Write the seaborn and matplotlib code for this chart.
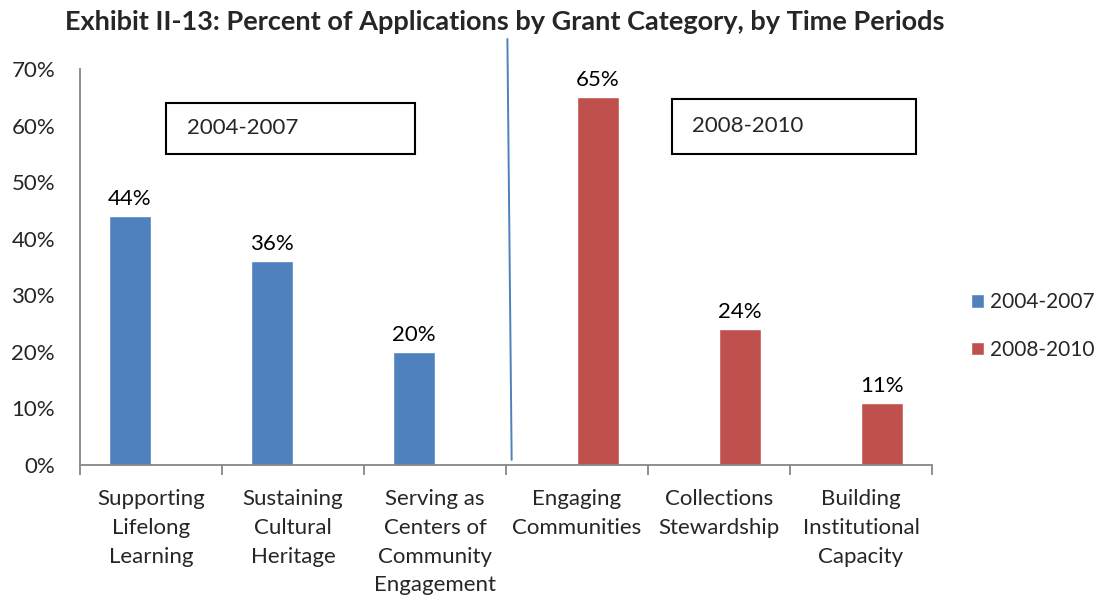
import matplotlib
matplotlib.use("Agg")
import matplotlib.pyplot as plt
from matplotlib.ticker import FuncFormatter, FixedLocator
from matplotlib.patches import Rectangle
from matplotlib.lines import Line2D
import seaborn as sns
import pandas as pd

# Grant categories and their share of applications in each period
categories = [
    "Supporting\nLifelong\nLearning",
    "Sustaining\nCultural\nHeritage",
    "Serving as\nCenters of\nCommunity\nEngagement",
    "Engaging\nCommunities",
    "Collections\nStewardship",
    "Building\nInstitutional\nCapacity",
]
periods = ["2004-2007", "2008-2010"]
values_2004_2007 = [44, 36, 20]
values_2008_2010 = [65, 24, 11]
colors = ["#4F81BD", "#C0504D"]

df = pd.DataFrame({
    "category": categories,
    "period": [periods[0]] * 3 + [periods[1]] * 3,
    "value": values_2004_2007 + values_2008_2010,
})

sns.set_theme(style="white")
plt.rcParams["font.family"] = ["Lato", "DejaVu Sans"]

fig = plt.figure(figsize=(11.05, 5.96), dpi=100)
ax = fig.add_axes([0.0724, 0.2198, 0.771, 0.6644])

sns.barplot(data=df, x="category", y="value", hue="period",
            order=categories, hue_order=periods, palette=colors,
            width=0.59, dodge=True, saturation=1, errorbar=None,
            legend=False, ax=ax)

fs = 16
for cont in ax.containers:
    ax.bar_label(cont, labels=[f"{b.get_height():.0f}%" for b in cont],
                 padding=5, fontsize=fs, color="black")

ax.set_xlim(-0.5, 5.5)
ax.set_ylim(0, 70)
ax.set_yticks(range(0, 71, 10))
ax.yaxis.set_major_formatter(FuncFormatter(lambda v, p: f"{v:.0f}%"))
ax.set_xlabel("")
ax.set_ylabel("")

for side in ["top", "right"]:
    ax.spines[side].set_visible(False)
for side in ["left", "bottom"]:
    ax.spines[side].set_color("#868686")
    ax.spines[side].set_linewidth(1.3)

ax.tick_params(axis="y", which="major", direction="out", length=7,
               width=1.3, color="#868686", labelsize=fs, pad=11)
ax.tick_params(axis="x", which="major", length=0, labelsize=fs, pad=17)
ax.xaxis.set_minor_locator(FixedLocator([i - 0.5 for i in range(7)]))
ax.tick_params(axis="x", which="minor", direction="out", length=7,
               width=1.3, color="#868686", bottom=True)
for lab in ax.get_xticklabels():
    lab.set_linespacing(1.56)

# Divider between the two periods
ax.add_line(Line2D([2.51, 2.54], [75.3, 0.9], color="#4F81BD",
                   linewidth=1.4, clip_on=False))

# Period boxes
trans = fig.transFigure
W, H = 1105, 596
for (x0, y0, x1, y1, tx, label) in [
    (166, 103, 415, 154, 187, periods[0]),
    (672, 99, 916, 154, 692, periods[1]),
]:
    fig.patches.append(Rectangle((x0 / W, 1 - y1 / H), (x1 - x0) / W,
                                 (y1 - y0) / H, transform=trans,
                                 facecolor="white", edgecolor="black",
                                 linewidth=1.5, zorder=5))
    fig.text(tx / W, 1 - (y0 + y1) / 2 / H, label, fontsize=fs,
             ha="left", va="center", zorder=6)

# Legend
handles = [Rectangle((0, 0), 1, 1, facecolor=c) for c in colors]
fig.legend(handles, periods, loc="center left",
           bbox_to_anchor=(971 / W, 1 - 326 / H), frameon=False,
           fontsize=15, handlelength=0.6, handleheight=0.6,
           handletextpad=0.3, labelspacing=1.3, borderpad=0,
           borderaxespad=0)

fig.text(505 / W, 1 - 22 / H,
         "Exhibit II-13: Percent of Applications by Grant Category, by Time Periods",
         fontsize=19.5, fontweight="bold", ha="center", va="center")

fig.savefig("out.png", dpi=100, facecolor="white")
